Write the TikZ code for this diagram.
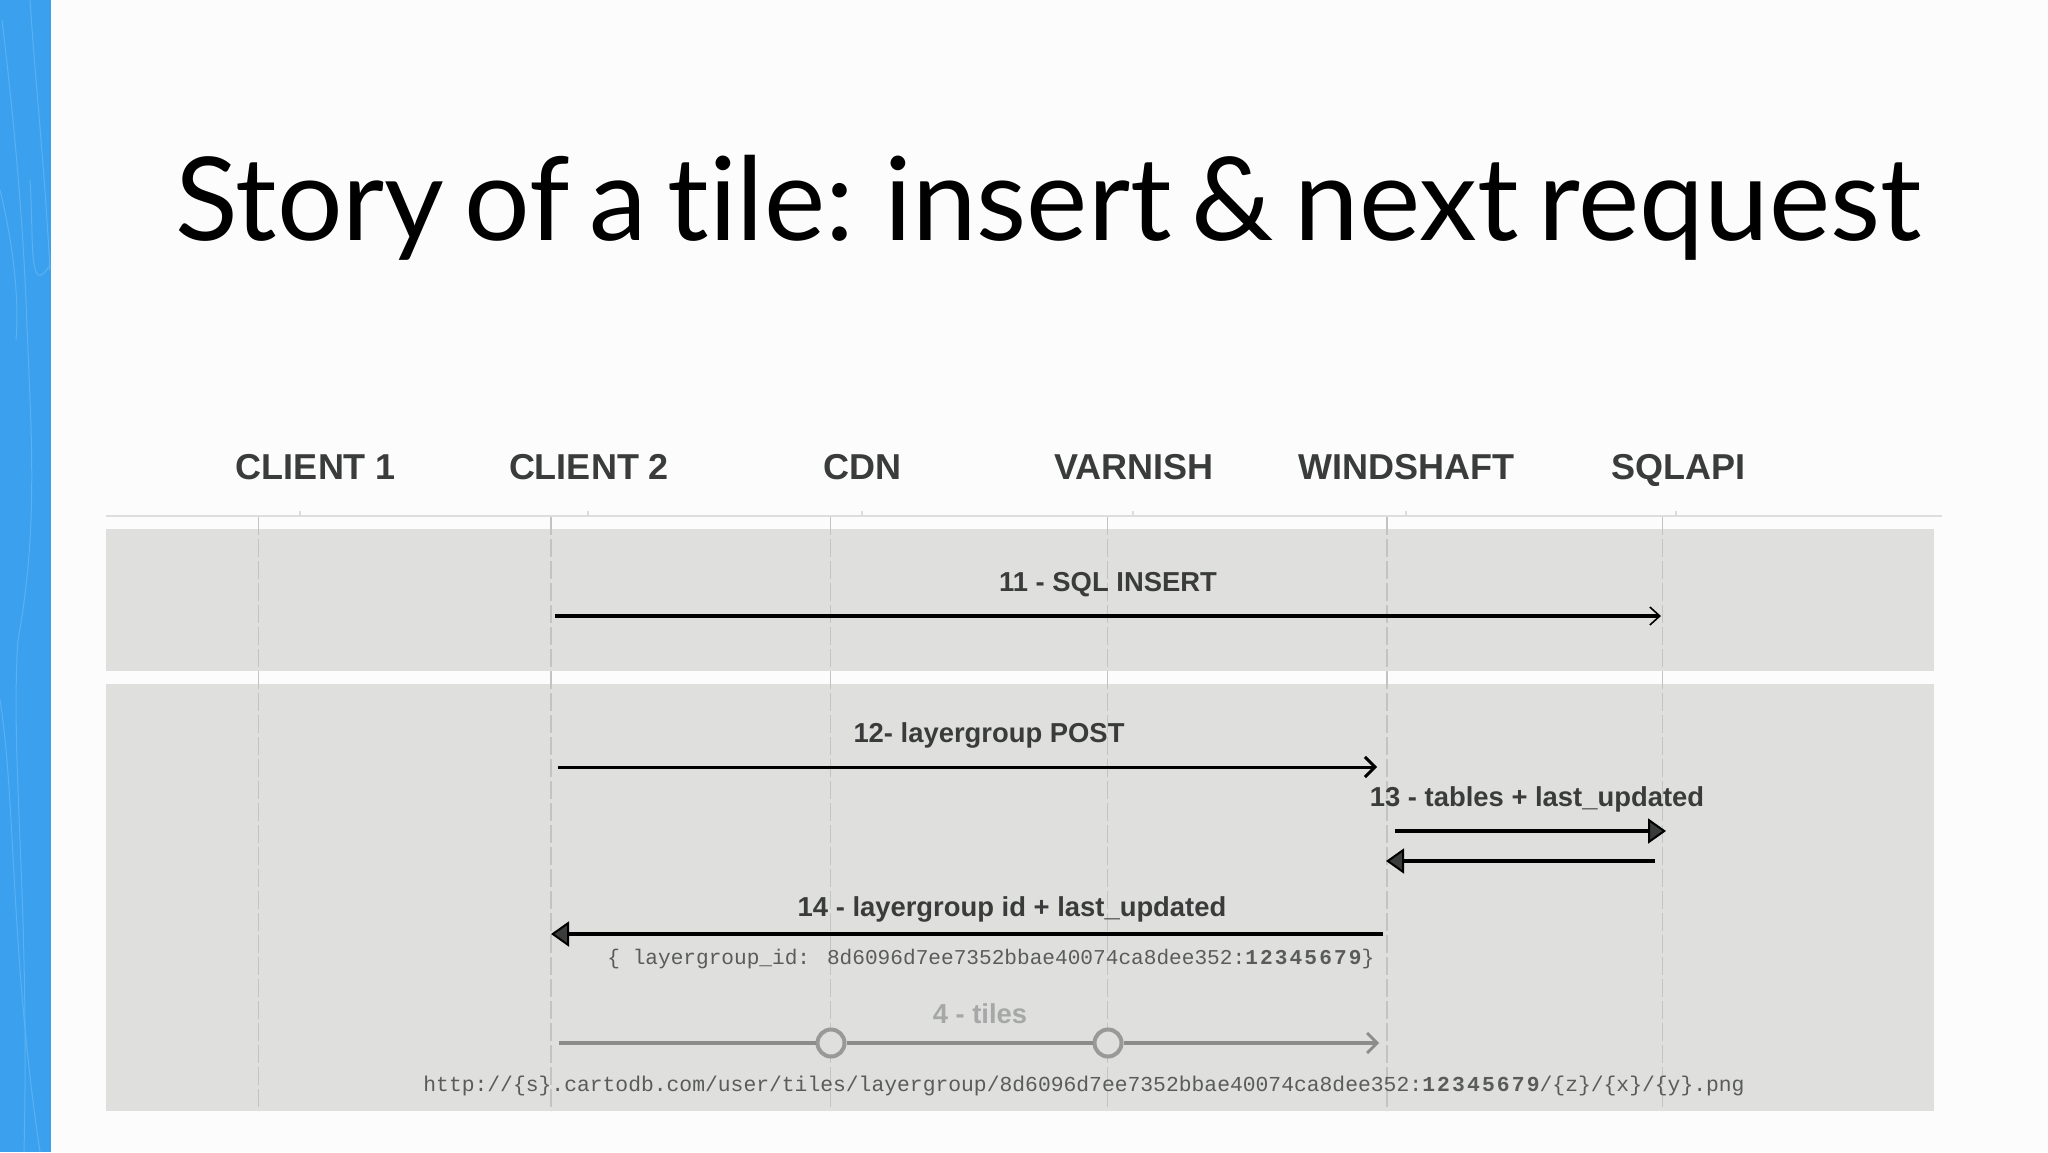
\documentclass[tikz,border=0pt]{standalone}
\usepackage{fontspec}
\usetikzlibrary{arrows.meta}
\setmainfont{Lato}[Ligatures=NoCommon,WordSpace=0.68]
\newfontfamily\hdfont{Liberation Sans}
\newfontfamily\codefont{Liberation Mono}
\newcommand{\codebold}[1]{{\bfseries\addfontfeature{LetterSpace=10}#1}}
\definecolor{stripe}{HTML}{3BA1EF}
\definecolor{stripeline}{HTML}{5BB0F2}
\definecolor{band}{HTML}{DFE0DE}
\definecolor{lifeline}{HTML}{C2C3C2}
\definecolor{headline}{HTML}{DCDDDC}
\definecolor{ink}{HTML}{3A3C3B}
\definecolor{fadedink}{HTML}{A6A8A7}
\definecolor{fadedline}{HTML}{8B8C8B}
\definecolor{hopline}{HTML}{989998}
\definecolor{codeink}{HTML}{5A5C5B}
\tikzset{
  x=0.5pt,y=-0.5pt,
  titletext/.style={anchor=base west,inner sep=0,font=\fontsize{57.9}{60}\selectfont,text=black},
  header/.style={anchor=base,inner sep=0,font=\hdfont\bfseries\fontsize{18}{20}\selectfont,text=ink},
  msglabel/.style={anchor=base,inner sep=0,font=\hdfont\bfseries\fontsize{13.7}{16}\selectfont,text=ink},
  fadedlabel/.style={msglabel,text=fadedink},
  codetext/.style={anchor=base west,inner sep=0,font=\codefont\fontsize{10.56}{12}\selectfont,text=codeink},
  urltext/.style={codetext,font=\codefont\fontsize{10.67}{12}\selectfont},
  bandbox/.style={fill=band,draw=none},
  life/.style={draw=lifeline,line width=0.7pt,dash pattern=on 9pt off 2pt},
  openmsg/.style={draw=black,line width=1.6pt,-{Straight Barb[length=5pt,width=9pt,line width=0.8pt]}},
  boldmsg/.style={draw=black,line width=1.5pt,-{Straight Barb[length=5pt,width=10pt,line width=1.5pt]}},
  fillmsg/.style={draw=black,line width=1.6pt,-{Triangle[length=9pt,width=12.5pt,fill=ink,line width=1pt]}},
  fadedmsg/.style={draw=fadedline,line width=1.6pt},
  fadedend/.style={fadedmsg,-{Straight Barb[length=5pt,width=10pt,line width=1.4pt]}},
  hop/.style={circle,draw=hopline,line width=2pt,fill=band,minimum size=13.5pt,inner sep=0},
  tick/.style={draw=headline,line width=0.7pt}
}
\begin{document}
\begin{tikzpicture}
\useasboundingbox (0,0) rectangle (2048,1152);
\fill[white!99!black] (0,0) rectangle (2048,1152);
% blue stripe
\fill[stripe] (0,0) rectangle (51,1152);
\draw[stripeline,line width=0.5pt] (2,20) .. controls (14,120) and (22,210) .. (26,300) .. controls (30,420) and (40,520) .. (18,640) .. controls (10,760) and (30,900) .. (24,1152);
\draw[stripeline,line width=0.5pt] (30,0) .. controls (36,90) and (44,160) .. (50,270);
\draw[stripeline,line width=0.5pt] (0,190) .. controls (10,230) and (20,290) .. (16,340);
\draw[stripeline,line width=0.5pt] (30,180) .. controls (34,240) and (28,300) .. (50,265);
\draw[stripeline,line width=0.5pt] (0,700) .. controls (16,800) and (10,950) .. (40,1152);
% title
\node[titletext] (title) at (175,240) {Story of a tile: insert \& next request};
% bands
\fill[bandbox] (106,529) rectangle (1934,671);
\fill[bandbox] (106,684) rectangle (1934,1111);
% header rule
\draw[draw=headline,line width=1.1pt] (106,516) -- (1942,516);
% headers
\node[header] (c1) at (316,479) {CLIENT 1};
\node[header] (c2) at (589,479) {CLIENT 2};
\node[header] (cdn) at (862,479) {CDN};
\node[header] (var) at (1134,479) {VARNISH};
\node[header] (win) at (1406,479) {WINDSHAFT};
\node[header] (sql) at (1678,479) {SQLAPI};
% header ticks
\foreach \tx in {300,588,862,1133,1406,1676}
  \draw[tick] (\tx,511) -- (\tx,516);
% lifelines
\foreach \n/\lx in {a/258.6,b/551,c/830.6,d/1107.5,e/1387,f/1662.6}{
  \coordinate (\n top) at (\lx,517);
  \coordinate (\n bot) at (\lx,1111);
  \draw[life] (\n top) -- (\n bot);
}
% message end points
\coordinate (m11s) at (555,616);  \coordinate (m11e) at (1661,616);
\coordinate (m12s) at (558,767);  \coordinate (m12e) at (1377,767);
\coordinate (m13s) at (1395,831); \coordinate (m13e) at (1666,831);
\coordinate (m13bs) at (1655,861); \coordinate (m13be) at (1386,861);
\coordinate (m14s) at (1383,934); \coordinate (m14e) at (551,934);
\coordinate (m4s) at (559,1043);  \coordinate (m4e) at (1379,1043);
% messages
\draw[openmsg] (m11s) -- (m11e);
\node[msglabel] (l11) at (1108,591) {11 - SQL INSERT};
\draw[boldmsg] (m12s) -- (m12e);
\node[msglabel] (l12) at (989,742) {12- layergroup POST};
\draw[fillmsg] (m13s) -- (m13e);
\draw[fillmsg] (m13bs) -- (m13be);
\node[msglabel] (l13) at (1537,806) {13 - tables + last\_updated};
\draw[fillmsg] (m14s) -- (m14e);
\node[msglabel] (l14) at (1012,916) {14 - layergroup id + last\_updated};
\node[codetext] (code) at (607,964) {\{ layergroup\_id: 8d6096d7ee7352bbae40074ca8dee352:\codebold{12345679}\}};
\node[fadedlabel] (l4) at (980,1023) {4 - tiles};
\node[hop] (h1) at (831,1043) {};
\node[hop] (h2) at (1108,1043) {};
\draw[fadedmsg] (m4s) -- (h1);
\draw[fadedmsg] (h1) -- (h2);
\draw[fadedend] (h2) -- (m4e);
\node[urltext] (url) at (423,1091) {http://\{s\}.cartodb.com/user/tiles/layergroup/8d6096d7ee7352bbae40074ca8dee352:\codebold{12345679}/\{z\}/\{x\}/\{y\}.png};
\end{tikzpicture}
\end{document}
